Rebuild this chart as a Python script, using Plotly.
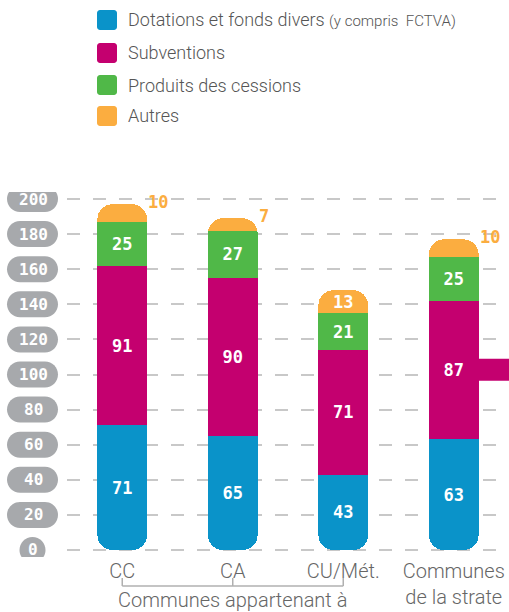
import plotly.graph_objects as go

# Données
categories = ["CC", "CA", "CU/Mét.", "Communes de la strate"]
tick_labels = ["CC", "CA", "CU/Mét.", "Communes<br>de la strate"]
series = ["Dotations et fonds divers", "Subventions", "Produits des cessions", "Autres"]
series_suffix = ["(y compris  FCTVA)", "", "", ""]
dotations = [71, 65, 43, 63]
subventions = [91, 90, 71, 87]
# hauteur réellement dessinée dans l'original (la strate y est plus courte que 87)
subventions_dessin = [91, 90, 71, 79]
cessions = [25, 27, 21, 25]
autres = [10, 7, 13, 10]
autres_inside = [False, False, True, False]
y_ticks = [0, 20, 40, 60, 80, 100, 120, 140, 160, 180, 200]
groupe = ["CC", "CA", "CU/Mét."]
groupe_titre = "Communes appartenant à"

couleurs = ['#0a93c9', '#c4006f', '#50b848', '#fbad40']
gris_texte = '#666666'
gris_pill = '#a7a9ac'
texte = dict(family='Roboto', weight=300, color=gris_texte)
chiffres = dict(family='DejaVu Sans Mono', weight='bold')

W, H = 509, 612
L, R, T, B = 67, 0, 192, 55
Y_MIN, Y_MAX = -4, 204
REF = 200  # axe inversé : u = REF - y


def px_x(px):
    return (px - L) / (W - L - R)


def px_y(py):
    return (H - B - py) / (H - T - B)


def rounded_rect(w, h, r):
    k = 0.5523 * r
    a, b = w / 2 - r, h / 2 - r
    return (f"M {-a},{-h/2} L {a},{-h/2} C {a+k},{-h/2} {w/2},{-b-k} {w/2},{-b} "
            f"L {w/2},{b} C {w/2},{b+k} {a+k},{h/2} {a},{h/2} "
            f"L {-a},{h/2} C {-a-k},{h/2} {-w/2},{b+k} {-w/2},{b} "
            f"L {-w/2},{-b} C {-w/2},{-b-k} {-a-k},{-h/2} {-a},{-h/2} Z")


totaux = [d + s + c + a for d, s, c, a in zip(dotations, subventions_dessin, cessions, autres)]

bar_style = dict(width=0.45, textposition='inside', insidetextanchor='middle',
                 textangle=0, constraintext='none', hoverinfo='skip',
                 insidetextfont=dict(color='white', size=17, **chiffres))
vide = dict(color='rgba(0,0,0,0)', line_width=0)

fig = go.Figure()
# pile principale (haut arrondi) : le bleu n'y sert que de cale transparente
fig.add_trace(go.Bar(x=categories, y=dotations, marker=vide, **bar_style))
fig.add_trace(go.Bar(x=categories, y=subventions_dessin, marker=dict(color=couleurs[1], line_width=0),
                     text=[str(v) for v in subventions], **bar_style))
fig.add_trace(go.Bar(x=categories, y=cessions, marker=dict(color=couleurs[2], line_width=0),
                     text=[str(v) for v in cessions], **bar_style))
fig.add_trace(go.Bar(x=categories, y=autres, marker=dict(color=couleurs[3], line_width=0),
                     **bar_style))
# bleu sur un axe inversé pour arrondir le bas
fig.add_trace(go.Bar(x=categories, y=[REF - v for v in dotations], yaxis='y2', marker=vide, **bar_style))
fig.add_trace(go.Bar(x=categories, y=dotations, yaxis='y2',
                     marker=dict(color=couleurs[0], line_width=0),
                     text=[str(v) for v in dotations], **bar_style))

shapes = []
annotations = []

# Autres : étiquettes (dans la barre ou à droite du sommet)
for cat, v, tot, ins in zip(categories, autres, totaux, autres_inside):
    if ins:
        annotations.append(dict(x=cat, y=tot - v / 2, xref='x', yref='y', text=str(v), showarrow=False,
                                xanchor='center', yanchor='middle',
                                font=dict(color='white', size=17, **chiffres)))
    else:
        annotations.append(dict(x=cat, y=tot, xref='x', yref='y', text=str(v), showarrow=False,
                                xanchor='left', yanchor='middle', xshift=24, yshift=2,
                                font=dict(color=couleurs[3], size=17, **chiffres)))

# Pastilles de l'axe Y
for t in y_ticks:
    w = 26 if t == 0 else 51
    shapes.append(dict(type='path', xref='paper', yref='y', xsizemode='pixel', ysizemode='pixel',
                       xanchor=px_x(32.5), yanchor=t, path=rounded_rect(w, 26, 13),
                       fillcolor=gris_pill, line_width=0))
    annotations.append(dict(x=px_x(33), y=t, xref='paper', yref='y', text=str(t), showarrow=False,
                            xanchor='center', yanchor='middle',
                            font=dict(color='white', size=16, **chiffres)))

# Légende
for i, (nom, suf, c) in enumerate(zip(series, series_suffix, couleurs)):
    yc = [20, 53, 85, 116][i]
    shapes.append(dict(type='path', xref='paper', yref='paper', xsizemode='pixel', ysizemode='pixel',
                       xanchor=px_x(107), yanchor=px_y(yc), path=rounded_rect(20, 20, 3),
                       fillcolor=c, line_width=0))
    label = nom + (f' <span style="font-size:15px">{suf}</span>' if suf else '')
    annotations.append(dict(x=px_x(126), y=px_y(yc), xref='paper', yref='paper', text=label,
                            showarrow=False, xanchor='left', yanchor='middle',
                            font=dict(size=18, color='#555555', family='Roboto', weight=300)))

# Accolade "Communes appartenant à"
idx = [categories.index(g) for g in groupe]
shapes.append(dict(type='line', xref='x', yref='paper', x0=idx[0], x1=idx[-1],
                   y0=px_y(586), y1=px_y(586), line=dict(color='#b0b0b0', width=1.5)))
for i in idx:
    shapes.append(dict(type='line', xref='x', yref='paper', x0=i, x1=i,
                       y0=px_y(578), y1=px_y(586), line=dict(color='#b0b0b0', width=1.5)))
annotations.append(dict(x=idx[len(idx) // 2], y=px_y(600), xref='x', yref='paper', text=groupe_titre,
                        showarrow=False, xanchor='center', yanchor='middle',
                        font=dict(size=20, **texte)))

# Bande magenta à droite
shapes.append(dict(type='rect', xref='paper', yref='y', x0=px_x(478), x1=1.01, y0=96.5, y1=109,
                   fillcolor=couleurs[1], line_width=0, layer='above'))

fig.update_layout(
    width=W, height=H,
    margin=dict(l=L, r=R, t=T, b=B),
    plot_bgcolor='white', paper_bgcolor='white',
    barmode='stack', barcornerradius=15, showlegend=False,
    font=texte,
    xaxis=dict(type='category', categoryarray=categories, range=[-0.5, 3.5],
               tickvals=categories, ticktext=tick_labels, tickfont=dict(size=20, **texte),
               showgrid=False, showline=False, ticks='', fixedrange=True),
    yaxis=dict(range=[Y_MIN, Y_MAX], tickvals=y_ticks, showticklabels=False, showline=False,
               zeroline=False, showgrid=True, gridcolor='#c8c8c8', gridwidth=1.5,
               griddash='13px,13px', fixedrange=True),
    yaxis2=dict(overlaying='y', range=[REF - Y_MIN, REF - Y_MAX], visible=False,
                showgrid=False, zeroline=False, fixedrange=True),
    shapes=shapes, annotations=annotations,
)

fig.write_html("out.html", config=dict(displayModeBar=False),
               post_script="document.body.style.margin='0';")
